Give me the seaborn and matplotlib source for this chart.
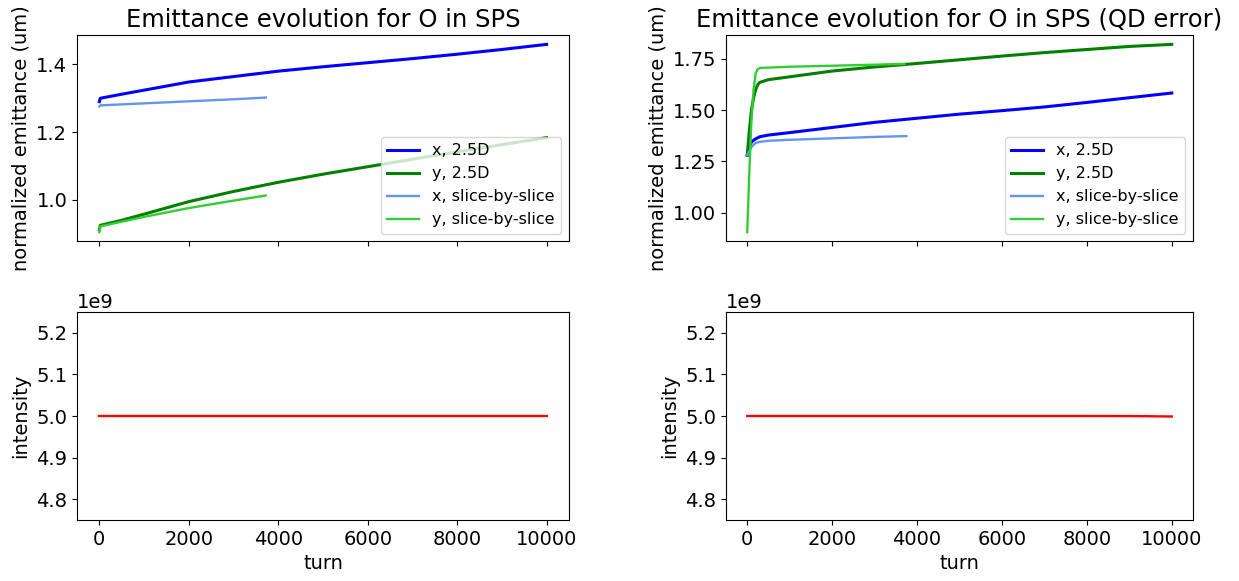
import matplotlib
matplotlib.use("Agg")
import matplotlib.pyplot as plt
import seaborn as sns
import numpy as np

# ---- data: left (no error) ----
tl_x25_turn = [0, 20, 500, 1000, 2000, 3000, 4000, 5000, 6000, 7000, 8000, 9000, 10000]
tl_x25_val = [1.29, 1.30, 1.312, 1.324, 1.348, 1.364, 1.38, 1.393, 1.405, 1.417, 1.43, 1.444, 1.459]
tl_xs_turn = [0, 20, 1000, 2000, 3000, 3720]
tl_xs_val = [1.276, 1.279, 1.285, 1.291, 1.297, 1.302]
tl_y25_turn = [0, 20, 500, 1000, 2000, 3000, 4000, 5000, 6000, 7000, 8000, 9000, 10000]
tl_y25_val = [0.912, 0.925, 0.94, 0.958, 0.995, 1.025, 1.052, 1.076, 1.098, 1.12, 1.142, 1.163, 1.184]
tl_ys_turn = [0, 20, 1000, 2000, 3000, 3720]
tl_ys_val = [0.905, 0.922, 0.95, 0.976, 0.998, 1.013]

# ---- data: right (QD error) ----
tr_x25_turn = [0, 50, 100, 200, 300, 500, 1000, 2000, 3000, 4000, 5000, 6000, 7000, 8000, 9000, 10000]
tr_x25_val = [1.28, 1.32, 1.345, 1.36, 1.37, 1.378, 1.39, 1.415, 1.44, 1.46, 1.48, 1.497, 1.515, 1.537, 1.56, 1.583]
tr_xs_turn = [0, 100, 200, 300, 500, 1000, 2000, 3000, 3750]
tr_xs_val = [1.28, 1.32, 1.34, 1.345, 1.35, 1.355, 1.362, 1.369, 1.373]
tr_y25_turn = [0, 50, 100, 150, 200, 250, 300, 500, 1000, 2000, 3000, 4000, 5000, 6000, 7000, 8000, 9000, 10000]
tr_y25_val = [1.28, 1.40, 1.50, 1.56, 1.60, 1.625, 1.635, 1.648, 1.662, 1.69, 1.71, 1.727, 1.745, 1.763, 1.78, 1.795, 1.81, 1.82]
tr_ys_turn = [0, 50, 100, 150, 200, 250, 300, 500, 1000, 2000, 3000, 3700]
tr_ys_val = [0.905, 1.20, 1.45, 1.60, 1.68, 1.70, 1.705, 1.707, 1.711, 1.716, 1.721, 1.725]

# ---- intensity ----
int_turn = [0, 2000, 4000, 6000, 8000, 9000, 9500, 10000]
int_left = [5.0e9, 5.0e9, 5.0e9, 5.0e9, 5.0e9, 5.0e9, 5.0e9, 5.0e9]
int_right = [5.0e9, 5.0e9, 5.0e9, 5.0e9, 5.0e9, 4.9998e9, 4.9994e9, 4.9988e9]

titles = ["Emittance evolution for O in SPS", "Emittance evolution for O in SPS (QD error)"]
labels = ["x, 2.5D", "y, 2.5D", "x, slice-by-slice", "y, slice-by-slice"]
colors = ["blue", "green", "cornflowerblue", "limegreen"]

plt.rcParams["font.family"] = "DejaVu Sans"
plt.rcParams["font.size"] = 14

fig = plt.figure(figsize=(12.39, 5.81), dpi=100)
W, H = 1239, 581
def pos(x0, x1, y0, y1):
    return [x0 / W, (H - y1) / H, (x1 - x0) / W, (y1 - y0) / H]

ax_tl = fig.add_axes(pos(77, 569, 35, 241.5))
ax_tr = fig.add_axes(pos(726, 1193, 35, 241.5))
ax_bl = fig.add_axes(pos(77, 569, 312, 520))
ax_br = fig.add_axes(pos(726, 1193, 312, 520))

series = [
    [(tl_x25_turn, tl_x25_val), (tl_y25_turn, tl_y25_val), (tl_xs_turn, tl_xs_val), (tl_ys_turn, tl_ys_val)],
    [(tr_x25_turn, tr_x25_val), (tr_y25_turn, tr_y25_val), (tr_xs_turn, tr_xs_val), (tr_ys_turn, tr_ys_val)],
]
widths = [2.2, 2.2, 1.7, 1.7]

for ax, ser, title in zip([ax_tl, ax_tr], series, titles):
    for (t, v), lab, c, lw in zip(ser, labels, colors, widths):
        sns.lineplot(x=t, y=v, ax=ax, color=c, label=lab, linewidth=lw)
    ax.set_title(title, fontsize=17.5)
    ax.set_ylabel("normalized emittance (um)", fontsize=14)
    ax.legend(loc="lower right", fontsize=11.5)
    ax.set_xlim(-500, 10500)
    ax.set_xticks([0, 2000, 4000, 6000, 8000, 10000])
    ax.set_xticklabels([])

ax_tr.set_yticks([1.00, 1.25, 1.50, 1.75])

for ax, vals in zip([ax_bl, ax_br], [int_left, int_right]):
    sns.lineplot(x=int_turn, y=vals, ax=ax, color="red", linewidth=1.7)
    ax.set_ylim(4.75e9, 5.25e9)
    ax.set_yticks([4.8e9, 4.9e9, 5.0e9, 5.1e9, 5.2e9])
    ax.set_xlim(-500, 10500)
    ax.set_xticks([0, 2000, 4000, 6000, 8000, 10000])
    ax.set_xlabel("turn", fontsize=14)
    ax.set_ylabel("intensity", fontsize=14)

fig.savefig("out.png", dpi=100)
